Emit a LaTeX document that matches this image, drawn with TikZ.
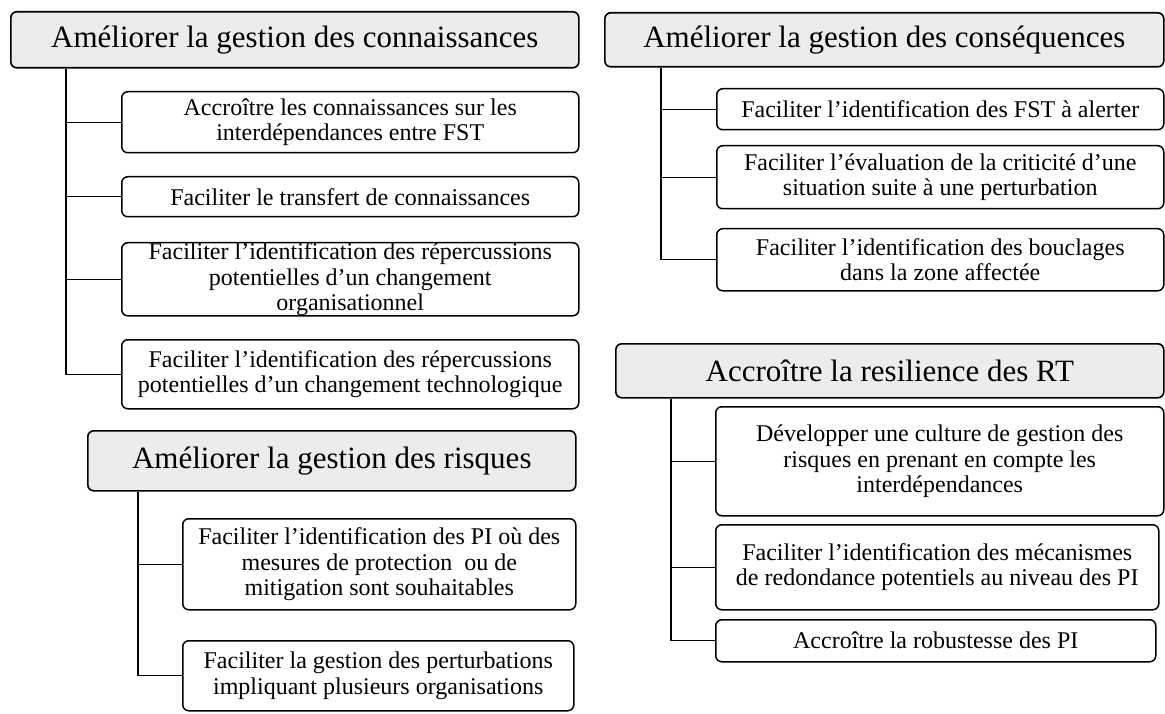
\documentclass[tikz,border=0pt]{standalone}
\usepackage{fontspec}
\setmainfont{Liberation Serif}
\usepackage{tikz}
\usetikzlibrary{positioning}

\definecolor{headgray}{RGB}{236,236,236}

\begin{document}
\begin{tikzpicture}[x=1pt,y=1pt,yscale=-1,
	headbox/.style={draw,line width=1.6pt,rounded corners=6pt,fill=headgray,anchor=north west,inner sep=0pt,align=center,font=\fontsize{31}{34}\selectfont},
	subbox/.style={draw,line width=1.5pt,rounded corners=6pt,fill=white,anchor=north west,inner sep=0pt,align=center,font=\fontsize{24}{25.5}\selectfont},
	trunk/.style={line width=1.2pt}]
	\useasboundingbox (0,0) rectangle (1165,714);
	
	%Group: gestion des connaissances
	\node [headbox,minimum width=568pt,minimum height=56pt] (hconn) at (10,11) {Améliorer la gestion des connaissances};
	\node [subbox,minimum width=457pt,minimum height=61pt] (conn1) at (121,91) {Accroître les connaissances sur les\\interdépendances entre FST};
	\node [subbox,minimum width=457pt,minimum height=40pt] (conn2) at (121,176) {Faciliter le transfert de connaissances};
	\node [subbox,minimum width=457pt,minimum height=72pt] (conn3) at (121,242) {Faciliter l’identification des répercussions\\potentielles d’un changement\\organisationnel};
	\node [subbox,minimum width=457pt,minimum height=69pt] (conn4) at (121,339) {Faciliter l’identification des répercussions\\potentielles d’un changement technologique};
	\coordinate (kconn) at (66,0);
	\draw [trunk] (hconn.south -| kconn) |- (conn4.west);
	\draw [trunk] (conn1.west -| kconn) -- (conn1.west);
	\draw [trunk] (conn2.west -| kconn) -- (conn2.west);
	\draw [trunk] (conn3.west -| kconn) -- (conn3.west);
	
	%Group: gestion des risques
	\node [headbox,minimum width=488pt,minimum height=60pt] (hrisk) at (87,430) {Améliorer la gestion des risques};
	\node [subbox,minimum width=393pt,minimum height=91pt] (risk1) at (182,518) {Faciliter l’identification des PI où des\\mesures de protection\ \ ou de\\mitigation sont souhaitables};
	\node [subbox,minimum width=391pt,minimum height=70pt] (risk2) at (182,640) {Faciliter la gestion des perturbations\\impliquant plusieurs organisations};
	\coordinate (krisk) at (138,0);
	\draw [trunk] (hrisk.south -| krisk) |- (risk2.west);
	\draw [trunk] (risk1.west -| krisk) -- (risk1.west);
	
	%Group: gestion des consequences
	\node [headbox,minimum width=559pt,minimum height=54pt] (hcons) at (604,12) {Améliorer la gestion des conséquences};
	\node [subbox,minimum width=447pt,minimum height=41pt] (cons1) at (716,88) {Faciliter l’identification des FST à alerter};
	\node [subbox,minimum width=447pt,minimum height=63pt] (cons2) at (716,145) {Faciliter l’évaluation de la criticité d’une\\situation suite à une perturbation};
	\node [subbox,minimum width=447pt,minimum height=62pt] (cons3) at (716,228) {Faciliter l’identification des bouclages\\dans la zone affectée};
	\coordinate (kcons) at (661,0);
	\draw [trunk] (hcons.south -| kcons) |- (cons3.west);
	\draw [trunk] (cons1.west -| kcons) -- (cons1.west);
	\draw [trunk] (cons2.west -| kcons) -- (cons2.west);
	
	%Group: resilience des RT
	\node [headbox,minimum width=548pt,minimum height=54pt] (hres) at (615,343) {Accroître la resilience des RT};
	\node [subbox,minimum width=448pt,minimum height=109pt] (res1) at (715,406) {Développer une culture de gestion des\\risques en prenant en compte les\\interdépendances};
	\node [subbox,minimum width=443pt,minimum height=85pt] (res2) at (715,524) {Faciliter l’identification des mécanismes\\de redondance potentiels au niveau des PI};
	\node [subbox,minimum width=440pt,minimum height=42pt] (res3) at (715,619) {Accroître la robustesse des PI};
	\coordinate (kres) at (671,0);
	\draw [trunk] (hres.south -| kres) |- (res3.west);
	\draw [trunk] (res1.west -| kres) -- (res1.west);
	\draw [trunk] (res2.west -| kres) -- (res2.west);
	
\end{tikzpicture}
\end{document}
